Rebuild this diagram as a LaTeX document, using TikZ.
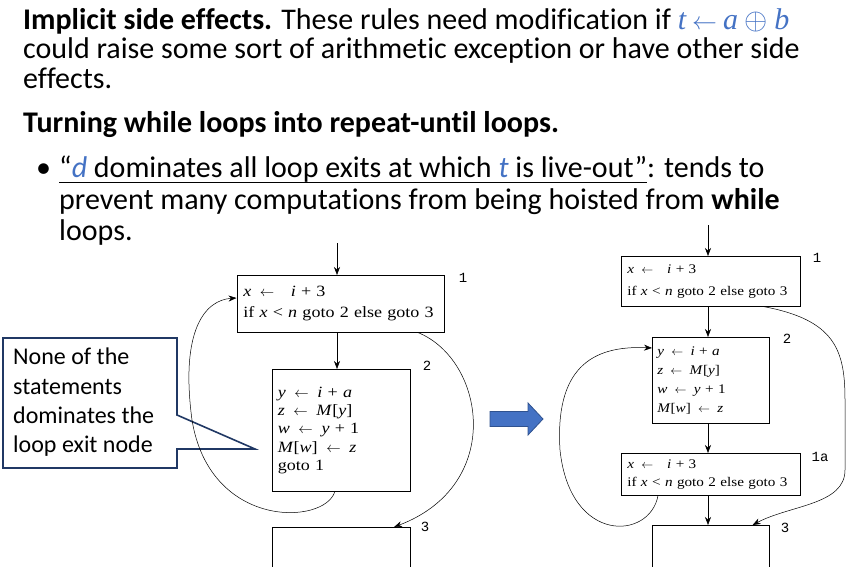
\documentclass[tikz,border=0pt]{standalone}
\usepackage{fontspec}
\usepackage{graphicx}
\setmainfont{Carlito}[Ligatures=NoCommon]
\newfontfamily\codefont{Liberation Serif}[FakeStretch=1.15]
\newfontfamily\slideserif{Liberation Serif}
\newfontfamily\labfont{Liberation Mono}
\usetikzlibrary{arrows.meta}

\definecolor{tblue}{HTML}{4472C4}
\definecolor{navy}{HTML}{203864}
\definecolor{arrfill}{HTML}{4472C4}
\definecolor{arredge}{HTML}{2F528F}

\newcommand\vr[1]{\textit{#1}}
\newcommand\la{\hspace{0.55em}$\leftarrow$\hspace{0.55em}}
\newcommand\ulin[1]{\setbox0\hbox{#1}\rlap{\rule[-4.8pt]{\wd0}{1.2pt}}\box0}

\tikzset{
  txt/.style={font=\fontsize{30}{31}\selectfont, anchor=base west, inner sep=0pt},
  blk/.style={draw, line width=0.6pt, anchor=north west, align=left, inner ysep=0pt},
  lbl/.style={font=\labfont\fontsize{14}{14}\selectfont, inner sep=0pt},
  flow/.style={-{Stealth[length=8pt,width=6pt]}, line width=0.5pt},
}

\begin{document}
\begin{tikzpicture}[x=1pt,y=-1pt]
  \useasboundingbox (0,0) rectangle (849,567);
  \clip (0,0) rectangle (849,567);

  % slide text
  \node[txt] (l1) at (23,29.5) {\textbf{Implicit side effects.} These rules need modification if
    \textcolor{tblue}{\slideserif\itshape t\hspace{6pt}{\fontsize{25}{25}\selectfont$\leftarrow$}\hspace{6pt}a\hspace{6pt}\scalebox{1.2}{$\oplus$}\hspace{7pt}b}};
  \node[txt] (l2) at (23,59) {could raise some sort of arithmetic exception or have other side};
  \node[txt] (l3) at (23,89) {effects.};
  \node[txt] (l4) at (23,133) {\textbf{Turning while loops into repeat-until loops.}};
  \node[txt] (dot) at (36,178) {\textbullet};
  \node[txt] (l5) at (59,178) {\ulin{“\textcolor{tblue}{\textit{d}} dominates all loop exits at which \textcolor{tblue}{\textit{t}} is live-out”}: tends to};
  \node[txt] (l6) at (59,209) {prevent many computations from being hoisted from \textbf{while}};
  \node[txt] (l7) at (59,240) {loops.};

  % callout
  \draw[navy, line width=1.6pt, fill=white] (3,338) -- (177,338) -- (177,415) -- (255,449)
    -- (177,449) -- (177,468) -- (3,468) -- cycle;
  \node[anchor=north west, align=left, inner sep=0pt, font=\fontsize{24}{29.3}\selectfont]
    (note) at (13,348) {None of the\\statements\\dominates the\\loop exit node};

  % left flow graph
  \node[blk, minimum width=207pt, minimum height=57pt, text width=194pt, inner xsep=6.5pt,
    font=\codefont\fontsize{15.7}{21}\selectfont] (L1) at (236.5,275)
    {\vr{x}\la\hspace{0.5em}\vr{i} + 3\\\mbox{if \vr{x} < \vr{n} goto 2 else goto 3}};
  \node[blk, minimum width=138pt, minimum height=122pt, text width=126pt, inner xsep=6pt,
    font=\codefont\fontsize{15.7}{18.3}\selectfont] (L2) at (271.5,369)
    {\vr{y}\la\vr{i} + \vr{a}\\\vr{z}\la\vr{M}[\vr{y}]\\\vr{w}\la\vr{y} + 1\\\vr{M}[\vr{w}]\la\vr{z}\\goto 1};
  \node[blk, minimum width=138pt, minimum height=60pt] (L3) at (271.5,527) {};
  \node[lbl] (nL1) at (463,278) {1};
  \node[lbl] (nL2) at (427,366) {2};
  \node[lbl] (nL3) at (425,527) {3};

  \coordinate (inL) at (337,243);
  \draw[flow] (inL) -- (inL |- L1.north);
  \draw[flow] (L1.south -| inL) -- (L2.north -| inL);
  \draw[flow] ([xshift=-26pt]L1.south east) .. controls (485,360) and (505,485) .. ([xshift=-16pt]L3.north east);
  \draw[flow] ([xshift=-6pt]L2.south) .. controls (325,525) and (210,530) .. (192,420)
    .. controls (180,330) and (205,300) .. ([yshift=-23pt]L1.north west);

  % block arrow
  \draw[fill=arrfill, draw=arredge, line width=0.8pt] (490,411.5) -- (528,411.5) -- (528,403)
    -- (543,419) -- (528,435) -- (528,426.5) -- (490,426.5) -- cycle;

  % right flow graph
  \node[blk, minimum width=179pt, minimum height=50pt, text width=167pt, inner xsep=6pt,
    font=\codefont\fontsize{13.2}{22}\selectfont] (R1) at (621,256)
    {\vr{x}\la\hspace{0.5em}\vr{i} + 3\\\mbox{if \vr{x} < \vr{n} goto 2 else goto 3}};
  \node[blk, minimum width=117pt, minimum height=86pt, text width=107pt, inner xsep=5pt,
    font=\codefont\fontsize{13.2}{19}\selectfont] (R2) at (652,337)
    {\vr{y}\la\vr{i} + \vr{a}\\\vr{z}\la\vr{M}[\vr{y}]\\\vr{w}\la\vr{y} + 1\\\vr{M}[\vr{w}]\la\vr{z}};
  \node[blk, minimum width=179pt, minimum height=42pt, text width=167pt, inner xsep=6pt,
    font=\codefont\fontsize{13.2}{18}\selectfont] (R1a) at (621,453)
    {\vr{x}\la\hspace{0.5em}\vr{i} + 3\\\mbox{if \vr{x} < \vr{n} goto 2 else goto 3}};
  \node[blk, minimum width=117pt, minimum height=60pt] (R3) at (652,525) {};
  \node[lbl] (nR1) at (817,258) {1};
  \node[lbl] (nR2) at (787,339) {2};
  \node[lbl] (nR1a) at (820,457) {1a};
  \node[lbl] (nR3) at (785,528) {3};

  \coordinate (inR) at (708,225);
  \draw[flow] (inR) -- (inR |- R1.north);
  \draw[flow] (R1.south -| inR) -- (R2.north -| inR);
  \draw[flow] (R2.south -| inR) -- (R1a.north -| inR);
  \draw[flow] (R1a.south -| inR) -- (R3.north -| inR);
  \draw[flow] ([xshift=-37pt]R1.south east) .. controls (835,320) and (845,350) .. (845,400)
    -- (845,470) .. controls (845,505) and (790,505) .. ([xshift=-17pt]R3.north east);
  \draw[flow] ([xshift=37pt]R1a.south west) .. controls (650,540) and (570,545) .. (560,450)
    .. controls (555,370) and (590,345) .. ([yshift=-11pt]R2.north west);
\end{tikzpicture}
\end{document}
